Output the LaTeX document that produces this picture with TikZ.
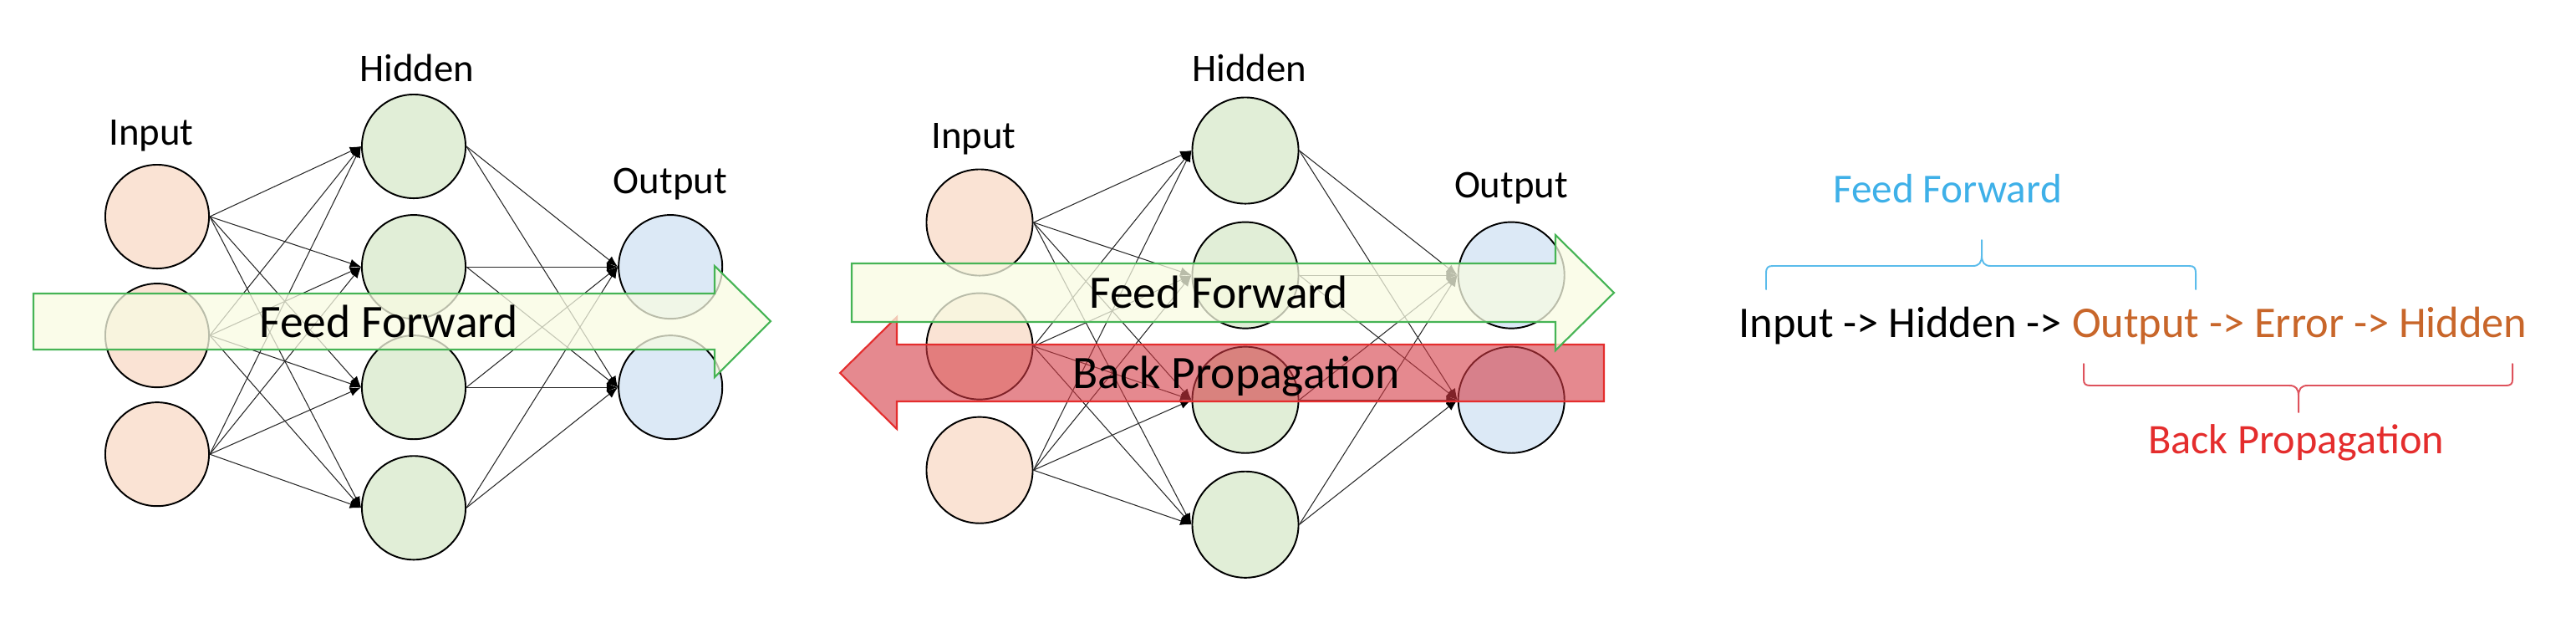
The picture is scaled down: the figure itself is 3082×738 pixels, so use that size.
\documentclass[tikz,border=0pt]{standalone}
\usepackage{fontspec}
\setmainfont{Carlito}
\usetikzlibrary{arrows.meta,positioning,calc}
\definecolor{inpfill}{RGB}{250,227,212}
\definecolor{hidfill}{RGB}{225,238,215}
\definecolor{outfill}{RGB}{220,233,246}
\definecolor{linkgray}{RGB}{40,40,40}
\definecolor{ffyellow}{RGB}{248,251,226}
\definecolor{ffgreen}{RGB}{70,180,85}
\definecolor{bpfill}{RGB}{212,58,68}
\definecolor{bpred}{RGB}{228,45,45}
\definecolor{ffblue}{RGB}{62,176,232}
\definecolor{bporange}{RGB}{200,102,42}
\definecolor{bpbrace}{RGB}{222,82,92}
\tikzset{
	innode/.style  = {draw, fill=inpfill, circle, line width=0.55pt},
	hidnode/.style = {draw, fill=hidfill, circle, line width=0.55pt},
	outnode/.style = {draw, fill=outfill, circle, line width=0.55pt},
	link/.style    = {->, draw=linkgray, line width=0.3pt},
	lbl/.style     = {font=\fontsize{13.3pt}{16pt}\selectfont, anchor=base, inner sep=0pt},
	bigtxt/.style  = {font=\fontsize{15.8pt}{19pt}\selectfont, anchor=base, inner sep=0pt},
	ffarrow/.style = {draw=ffgreen, fill=ffyellow, fill opacity=0.75, line width=0.6pt},
	bparrow/.style = {draw=bpred, fill=bpfill, fill opacity=0.6, line width=0.6pt},
	brace/.style   = {line width=0.55pt, line cap=round}
}

\begin{document}
\begin{tikzpicture}[x=0.01cm, y=-0.01cm, >={Latex[length=3.8pt,width=3pt,fill=black,color=black]}]
	\useasboundingbox (0,0) rectangle (3082,738);
	% ========================== Nodes ============================
	% Left network (feed forward only)
	\node [innode, minimum size=1.24cm] (inA1) at (188,259) {};
	\node [innode, minimum size=1.24cm, below of=inA1, node distance=1.42cm] (inA2) {};
	\node [innode, minimum size=1.24cm, below of=inA2, node distance=1.42cm] (inA3) {};
	\node [hidnode, minimum size=1.24cm] (hidA1) at (495,175) {};
	\node [hidnode, minimum size=1.24cm, below of=hidA1, node distance=1.44cm] (hidA2) {};
	\node [hidnode, minimum size=1.24cm, below of=hidA2, node distance=1.44cm] (hidA3) {};
	\node [hidnode, minimum size=1.24cm, below of=hidA3, node distance=1.44cm] (hidA4) {};
	\node [outnode, minimum size=1.24cm, right of=hidA2, node distance=3.07cm] (outA1) {};
	\node [outnode, minimum size=1.24cm, right of=hidA3, node distance=3.07cm] (outA2) {};
	\node [lbl] (inlabA) at (181,173) {Input};
	\node [lbl] (hidlabA) at (499,97) {Hidden};
	\node [lbl] (outlabA) at (802,231) {Output};

	% Middle network (feed forward and back propagation)
	\node [innode, minimum size=1.27cm] (inB1) at (1172,266) {};
	\node [innode, minimum size=1.27cm, below of=inB1, node distance=1.48cm] (inB2) {};
	\node [innode, minimum size=1.27cm, below of=inB2, node distance=1.48cm] (inB3) {};
	\node [hidnode, minimum size=1.27cm] (hidB1) at (1490,180) {};
	\node [hidnode, minimum size=1.27cm, below of=hidB1, node distance=1.49cm] (hidB2) {};
	\node [hidnode, minimum size=1.27cm, below of=hidB2, node distance=1.49cm] (hidB3) {};
	\node [hidnode, minimum size=1.27cm, below of=hidB3, node distance=1.49cm] (hidB4) {};
	\node [outnode, minimum size=1.27cm, right of=hidB2, node distance=3.18cm] (outB1) {};
	\node [outnode, minimum size=1.27cm, right of=hidB3, node distance=3.18cm] (outB2) {};
	\node [lbl] (inlabB) at (1165,177) {Input};
	\node [lbl] (hidlabB) at (1495,97) {Hidden};
	\node [lbl] (outlabB) at (1808,236) {Output};

	% ========================== Lines ============================
	% Left network: input -> hidden
	\draw [link] (inA1.east) -- (hidA1.west);
	\draw [link] (inA1.east) -- (hidA2.west);
	\draw [link] (inA1.east) -- (hidA3.west);
	\draw [link] (inA1.east) -- (hidA4.west);
	\draw [link] (inA2.east) -- (hidA1.west);
	\draw [link] (inA2.east) -- (hidA2.west);
	\draw [link] (inA2.east) -- (hidA3.west);
	\draw [link] (inA2.east) -- (hidA4.west);
	\draw [link] (inA3.east) -- (hidA1.west);
	\draw [link] (inA3.east) -- (hidA2.west);
	\draw [link] (inA3.east) -- (hidA3.west);
	\draw [link] (inA3.east) -- (hidA4.west);
	% Left network: hidden -> output
	\draw [link] (hidA1.east) -- (outA1.west);
	\draw [link] (hidA1.east) -- (outA2.west);
	\draw [link] (hidA2.east) -- (outA1.west);
	\draw [link] (hidA2.east) -- (outA2.west);
	\draw [link] (hidA3.east) -- (outA1.west);
	\draw [link] (hidA3.east) -- (outA2.west);
	\draw [link] (hidA4.east) -- (outA1.west);
	\draw [link] (hidA4.east) -- (outA2.west);

	% Middle network: input -> hidden
	\draw [link] (inB1.east) -- (hidB1.west);
	\draw [link] (inB1.east) -- (hidB2.west);
	\draw [link] (inB1.east) -- (hidB3.west);
	\draw [link] (inB1.east) -- (hidB4.west);
	\draw [link] (inB2.east) -- (hidB1.west);
	\draw [link] (inB2.east) -- (hidB2.west);
	\draw [link] (inB2.east) -- (hidB3.west);
	\draw [link] (inB2.east) -- (hidB4.west);
	\draw [link] (inB3.east) -- (hidB1.west);
	\draw [link] (inB3.east) -- (hidB2.west);
	\draw [link] (inB3.east) -- (hidB3.west);
	\draw [link] (inB3.east) -- (hidB4.west);
	% Middle network: hidden -> output
	\draw [link] (hidB1.east) -- (outB1.west);
	\draw [link] (hidB1.east) -- (outB2.west);
	\draw [link] (hidB2.east) -- (outB1.west);
	\draw [link] (hidB2.east) -- (outB2.west);
	\draw [link] (hidB3.east) -- (outB1.west);
	\draw [link] (hidB3.east) -- (outB2.west);
	\draw [link] (hidB4.east) -- (outB1.west);
	\draw [link] (hidB4.east) -- (outB2.west);

	% ========================== Big arrows ============================
	\draw [ffarrow] (40,351) -- (855,351) -- (855,318) -- (922,384) -- (855,451) -- (855,418) -- (40,418) -- cycle;
	\node [bigtxt] (fftxtA) at (465,403) {Feed Forward};

	\draw [bparrow] (1919,412) -- (1073,412) -- (1073,379) -- (1005,446) -- (1073,513) -- (1073,480) -- (1919,480) -- cycle;
	\draw [ffarrow] (1019,315) -- (1861,315) -- (1861,281) -- (1931,350) -- (1861,419) -- (1861,385) -- (1019,385) -- cycle;
	\node [bigtxt] (fftxtB) at (1458,368) {Feed Forward};
	\node [bigtxt] (bptxtB) at (1479,464) {Back Propagation};

	% ========================== Summary ============================
	\node [font=\fontsize{14.9pt}{18pt}\selectfont, anchor=base west, inner sep=0pt] (chain) at (2080,403)
		{Input -> Hidden -> \textcolor{bporange}{Output -> Error -> Hidden}};
	\node [font=\fontsize{14pt}{17pt}\selectfont, anchor=base, inner sep=0pt, text=ffblue] (ffsum) at (2330,242) {Feed Forward};
	\node [font=\fontsize{14.3pt}{17pt}\selectfont, anchor=base, inner sep=0pt, text=bpred] (bpsum) at (2747,542) {Back Propagation};

	% braces
	\draw [brace, draw=ffblue!85] (2113,346) -- (2113,327) .. controls (2113,320) and (2115,318) .. (2121,318) -- (2360,318) .. controls (2368,318) and (2371,314) .. (2371,305) -- (2371,287);
	\draw [brace, draw=ffblue!85] (2627,346) -- (2627,327) .. controls (2627,320) and (2625,318) .. (2619,318) -- (2382,318) .. controls (2374,318) and (2371,314) .. (2371,305);
	\draw [brace, draw=bpbrace] (2493,435) -- (2493,454) .. controls (2493,459) and (2495,461) .. (2501,461) -- (2739,461) .. controls (2747,461) and (2750,465) .. (2750,474) -- (2750,493);
	\draw [brace, draw=bpbrace] (3006,435) -- (3006,454) .. controls (3006,459) and (3004,461) .. (2998,461) -- (2761,461) .. controls (2753,461) and (2750,465) .. (2750,474);
\end{tikzpicture}
\end{document}
